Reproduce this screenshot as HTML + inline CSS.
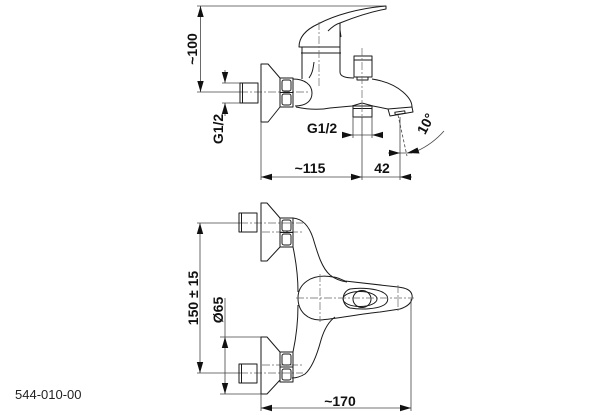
<!DOCTYPE html>
<html><head><meta charset="utf-8">
<style>
html,body{margin:0;padding:0;background:#fff;}
svg{display:block;}
text{font-family:"Liberation Sans",Arial,sans-serif;font-weight:bold;fill:#111;}
.o{fill:none;stroke:#1a1a1a;stroke-width:1;stroke-linejoin:round;}
.d{fill:none;stroke:#444;stroke-width:0.8;}
.c{fill:none;stroke:#666;stroke-width:0.7;stroke-dasharray:8 2 2 2;}
.a{fill:#111;stroke:none;}
</style></head>
<body>
<svg width="614" height="415" viewBox="0 0 614 415" xmlns="http://www.w3.org/2000/svg">
<!-- ============ TOP (SIDE) VIEW ============ -->
<!-- ~100 dimension -->
<line class="d" x1="197" y1="6" x2="386" y2="6"/>
<line class="d" x1="200.5" y1="6" x2="200.5" y2="92"/>
<polygon class="a" points="200.5,6 197.3,17 203.7,17"/>
<polygon class="a" points="200.5,92 197.3,81 203.7,81"/>
<text transform="translate(197,49) rotate(-90)" font-size="14" text-anchor="middle">~100</text>
<line class="d" x1="197" y1="92" x2="240" y2="92"/>
<line class="c" x1="240" y1="92" x2="308" y2="92"/>

<!-- G1/2 left dimension -->
<line class="d" x1="222" y1="83" x2="240" y2="83"/>
<line class="d" x1="222" y1="103" x2="240" y2="103"/>
<line class="d" x1="225" y1="70" x2="225" y2="83"/>
<line class="d" x1="225" y1="103" x2="225" y2="116"/>
<polygon class="a" points="225,83 221.8,72 228.2,72"/>
<polygon class="a" points="225,103 221.8,114 228.2,114"/>
<text transform="translate(223,129) rotate(-90)" font-size="14" text-anchor="middle">G1/2</text>

<!-- nipple -->
<rect class="o" x="240" y="83" width="18" height="20"/>
<line class="o" x1="242.5" y1="83" x2="242.5" y2="103"/>
<!-- flange -->
<polygon class="o" points="261,64 268,64 280,78 280,107 268,122 261,122"/>
<line class="d" x1="261" y1="122" x2="261" y2="180"/>
<!-- hex nut -->
<rect class="o" x="280" y="78" width="13" height="29"/>
<line class="o" x1="280" y1="92.5" x2="293" y2="92.5"/>
<rect class="o" x="282" y="80" width="9" height="11" rx="2"/>
<rect class="o" x="282" y="94" width="9" height="11" rx="2"/>
<!-- bulge -->
<path class="o" d="M293,79 C305,79 312,85 312,93 C312,101 306,106 295,106"/>
<!-- body -->
<path class="o" d="M302,53 L302,79"/>
<path class="o" d="M314,62 C313,70 312,74 309,78"/>
<path class="o" d="M296,107 C310,110 320,110 330,108 L352,106 L362,103 L373,106 L388,109"/>
<path class="o" d="M340,53 L340,72 C340,76 344,78 354,78"/>
<path class="o" d="M372,79 C385,81 395,85 403,92 C410,98 412,103 412,107"/>
<!-- aerator -->
<polygon class="o" points="388,109 412,107 413,112 390,116"/>
<rect class="o" x="395" y="111.5" width="10" height="2.5" transform="rotate(-8 400 113)"/>
<!-- diverter knob -->
<rect class="o" x="354" y="56" width="18" height="21"/>
<line class="o" x1="354" y1="60" x2="372" y2="60"/>
<rect class="o" x="357" y="77" width="11" height="3"/>
<!-- lower outlet nipple -->
<rect class="o" x="353" y="106" width="19" height="11"/>
<line class="o" x1="353" y1="108.5" x2="372" y2="108.5"/>
<!-- lever -->
<path class="o" d="M386,6 L386,9 C370,12 355,17 340,23 L340,47 L299,47 C299,38 305,30 318,24 C335,15 360,8 386,6 Z"/>
<path class="o" d="M328,31 C332,27 336,24 340,23"/>
<line class="o" x1="340" y1="30" x2="341" y2="37"/>
<!-- collar -->
<line class="o" x1="302" y1="47" x2="302" y2="53"/>
<line class="o" x1="340" y1="47" x2="340" y2="53"/>
<line class="o" x1="301" y1="53" x2="341" y2="53"/>
<!-- centerlines -->
<line class="c" x1="319" y1="22" x2="319" y2="88"/>
<line class="c" x1="362" y1="48" x2="362" y2="117"/>
<line class="d" x1="362" y1="117" x2="362" y2="180"/>

<!-- G1/2 lower dimension -->
<line class="d" x1="353" y1="117" x2="353" y2="138"/>
<line class="d" x1="372" y1="117" x2="372" y2="138"/>
<line class="d" x1="342" y1="135" x2="383" y2="135"/>
<polygon class="a" points="353,135 342,131.8 342,138.2"/>
<polygon class="a" points="372,135 383,131.8 383,138.2"/>
<text x="322" y="133" font-size="14" text-anchor="middle">G1/2</text>

<!-- ~115 / 42 dimension -->
<line class="d" x1="261" y1="177" x2="412" y2="177"/>
<polygon class="a" points="261,177 272,173.8 272,180.2"/>
<polygon class="a" points="362,177 351,173.8 351,180.2"/>
<polygon class="a" points="400,177 411,173.8 411,180.2"/>
<text x="310" y="173" font-size="14" text-anchor="middle">~115</text>
<text x="382" y="173" font-size="14" text-anchor="middle">42</text>

<!-- 10° angle -->
<line class="d" x1="400" y1="117" x2="400" y2="180"/>
<line class="d" x1="398" y1="115" x2="407" y2="156" stroke-dasharray="3 2"/>
<line class="d" x1="388" y1="153" x2="412" y2="153"/>
<polygon class="a" points="400,153 389,149.8 389,156.2"/>
<path class="d" d="M417,151 C426,147 436,140 444,131"/>
<polygon class="a" points="407,153 417.5,147.5 419.5,153.5"/>
<text transform="translate(430,126) rotate(-62)" font-size="14" text-anchor="middle">10°</text>

<!-- ============ BOTTOM (FRONT) VIEW ============ -->
<!-- centerlines -->
<line class="d" x1="197" y1="223" x2="240" y2="223"/>
<line class="c" x1="240" y1="223" x2="303" y2="223"/>
<line class="c" x1="262" y1="232" x2="303" y2="232"/>
<line class="d" x1="197" y1="373" x2="240" y2="373"/>
<line class="c" x1="240" y1="373" x2="303" y2="373"/>
<line class="c" x1="262" y1="365" x2="303" y2="365"/>

<!-- 150 ± 15 -->
<line class="d" x1="200" y1="223" x2="200" y2="373"/>
<polygon class="a" points="200,223 196.8,234 203.2,234"/>
<polygon class="a" points="200,373 196.8,362 203.2,362"/>
<text transform="translate(198,298) rotate(-90)" font-size="14" text-anchor="middle">150 ± 15</text>

<!-- Ø65 -->
<line class="d" x1="220" y1="337" x2="261" y2="337"/>
<line class="d" x1="220" y1="394" x2="261" y2="394"/>
<line class="d" x1="225" y1="298" x2="225" y2="394"/>
<polygon class="a" points="225,337 221.8,348 228.2,348"/>
<polygon class="a" points="225,394 221.8,383 228.2,383"/>
<text transform="translate(223,310) rotate(-90)" font-size="14" text-anchor="middle">Ø65</text>

<!-- upper connection -->
<rect class="o" x="239" y="213" width="18" height="19"/>
<line class="o" x1="241.5" y1="213" x2="241.5" y2="232"/>
<polygon class="o" points="261,203 267,203 280,218 280,247 267,261 261,261"/>
<rect class="o" x="280" y="218" width="13" height="29"/>
<line class="o" x1="280" y1="232.5" x2="293" y2="232.5"/>
<rect class="o" x="282" y="220" width="9" height="11" rx="2"/>
<rect class="o" x="282" y="234" width="9" height="11" rx="2"/>

<!-- lower connection -->
<rect class="o" x="239" y="364" width="18" height="19"/>
<line class="o" x1="241.5" y1="364" x2="241.5" y2="383"/>
<polygon class="o" points="261,337 267,337 280,352 280,380 267,394 261,394"/>
<rect class="o" x="280" y="352" width="13" height="30"/>
<line class="o" x1="280" y1="367" x2="293" y2="367"/>
<rect class="o" x="282" y="354" width="9" height="11" rx="2"/>
<rect class="o" x="282" y="369" width="9" height="11" rx="2"/>

<!-- body -->
<path class="o" d="M293,247 C297,266 298,282 298,292"/>
<path class="o" d="M298,305 C298,322 296,338 293,352"/>
<path class="o" d="M293,218 C303,219 309,226 313,238 C318,255 322,268 330,275 C335,279 340,281 347,282"/>
<path class="o" d="M335,317 C328,322 324,330 321,340 C317,355 312,368 305,374 C300,377 296,378 292,378"/>
<!-- disk -->
<path class="o" d="M333,277 C310,273 298,285 298,298 C298,312 308,320 320,320 C335,319 360,314 380,312 L400,309 C409,306 413,301 412,295 C411,290 406,288 398,287 L345,281 C340,279 337,277 333,277 Z"/>
<path class="o" d="M350,289 C362,287 378,289 384,293 C389,296 389,302 384,305 C377,309 362,310 350,308 C341,305 341,292 350,289 Z"/>
<ellipse class="o" cx="360" cy="299" rx="17" ry="7.5"/>
<ellipse class="o" cx="362" cy="299" rx="9" ry="8.5"/>
<line class="c" x1="296" y1="298" x2="414" y2="298"/>
<line class="c" x1="320" y1="274" x2="320" y2="322"/>
<line class="c" x1="398" y1="285" x2="398" y2="312"/>

<!-- ~170 -->
<line class="d" x1="411" y1="299" x2="411" y2="411"/>
<line class="d" x1="261" y1="394" x2="261" y2="411"/>
<line class="d" x1="261" y1="408" x2="411" y2="408"/>
<polygon class="a" points="261,408 272,404.8 272,411.2"/>
<polygon class="a" points="411,408 400,404.8 400,411.2"/>
<text x="340" y="406" font-size="14" text-anchor="middle">~170</text>

<!-- label -->
<text x="15" y="399" font-size="13" style="font-weight:normal;fill:#222">544-010-00</text>
</svg>
</body></html>
